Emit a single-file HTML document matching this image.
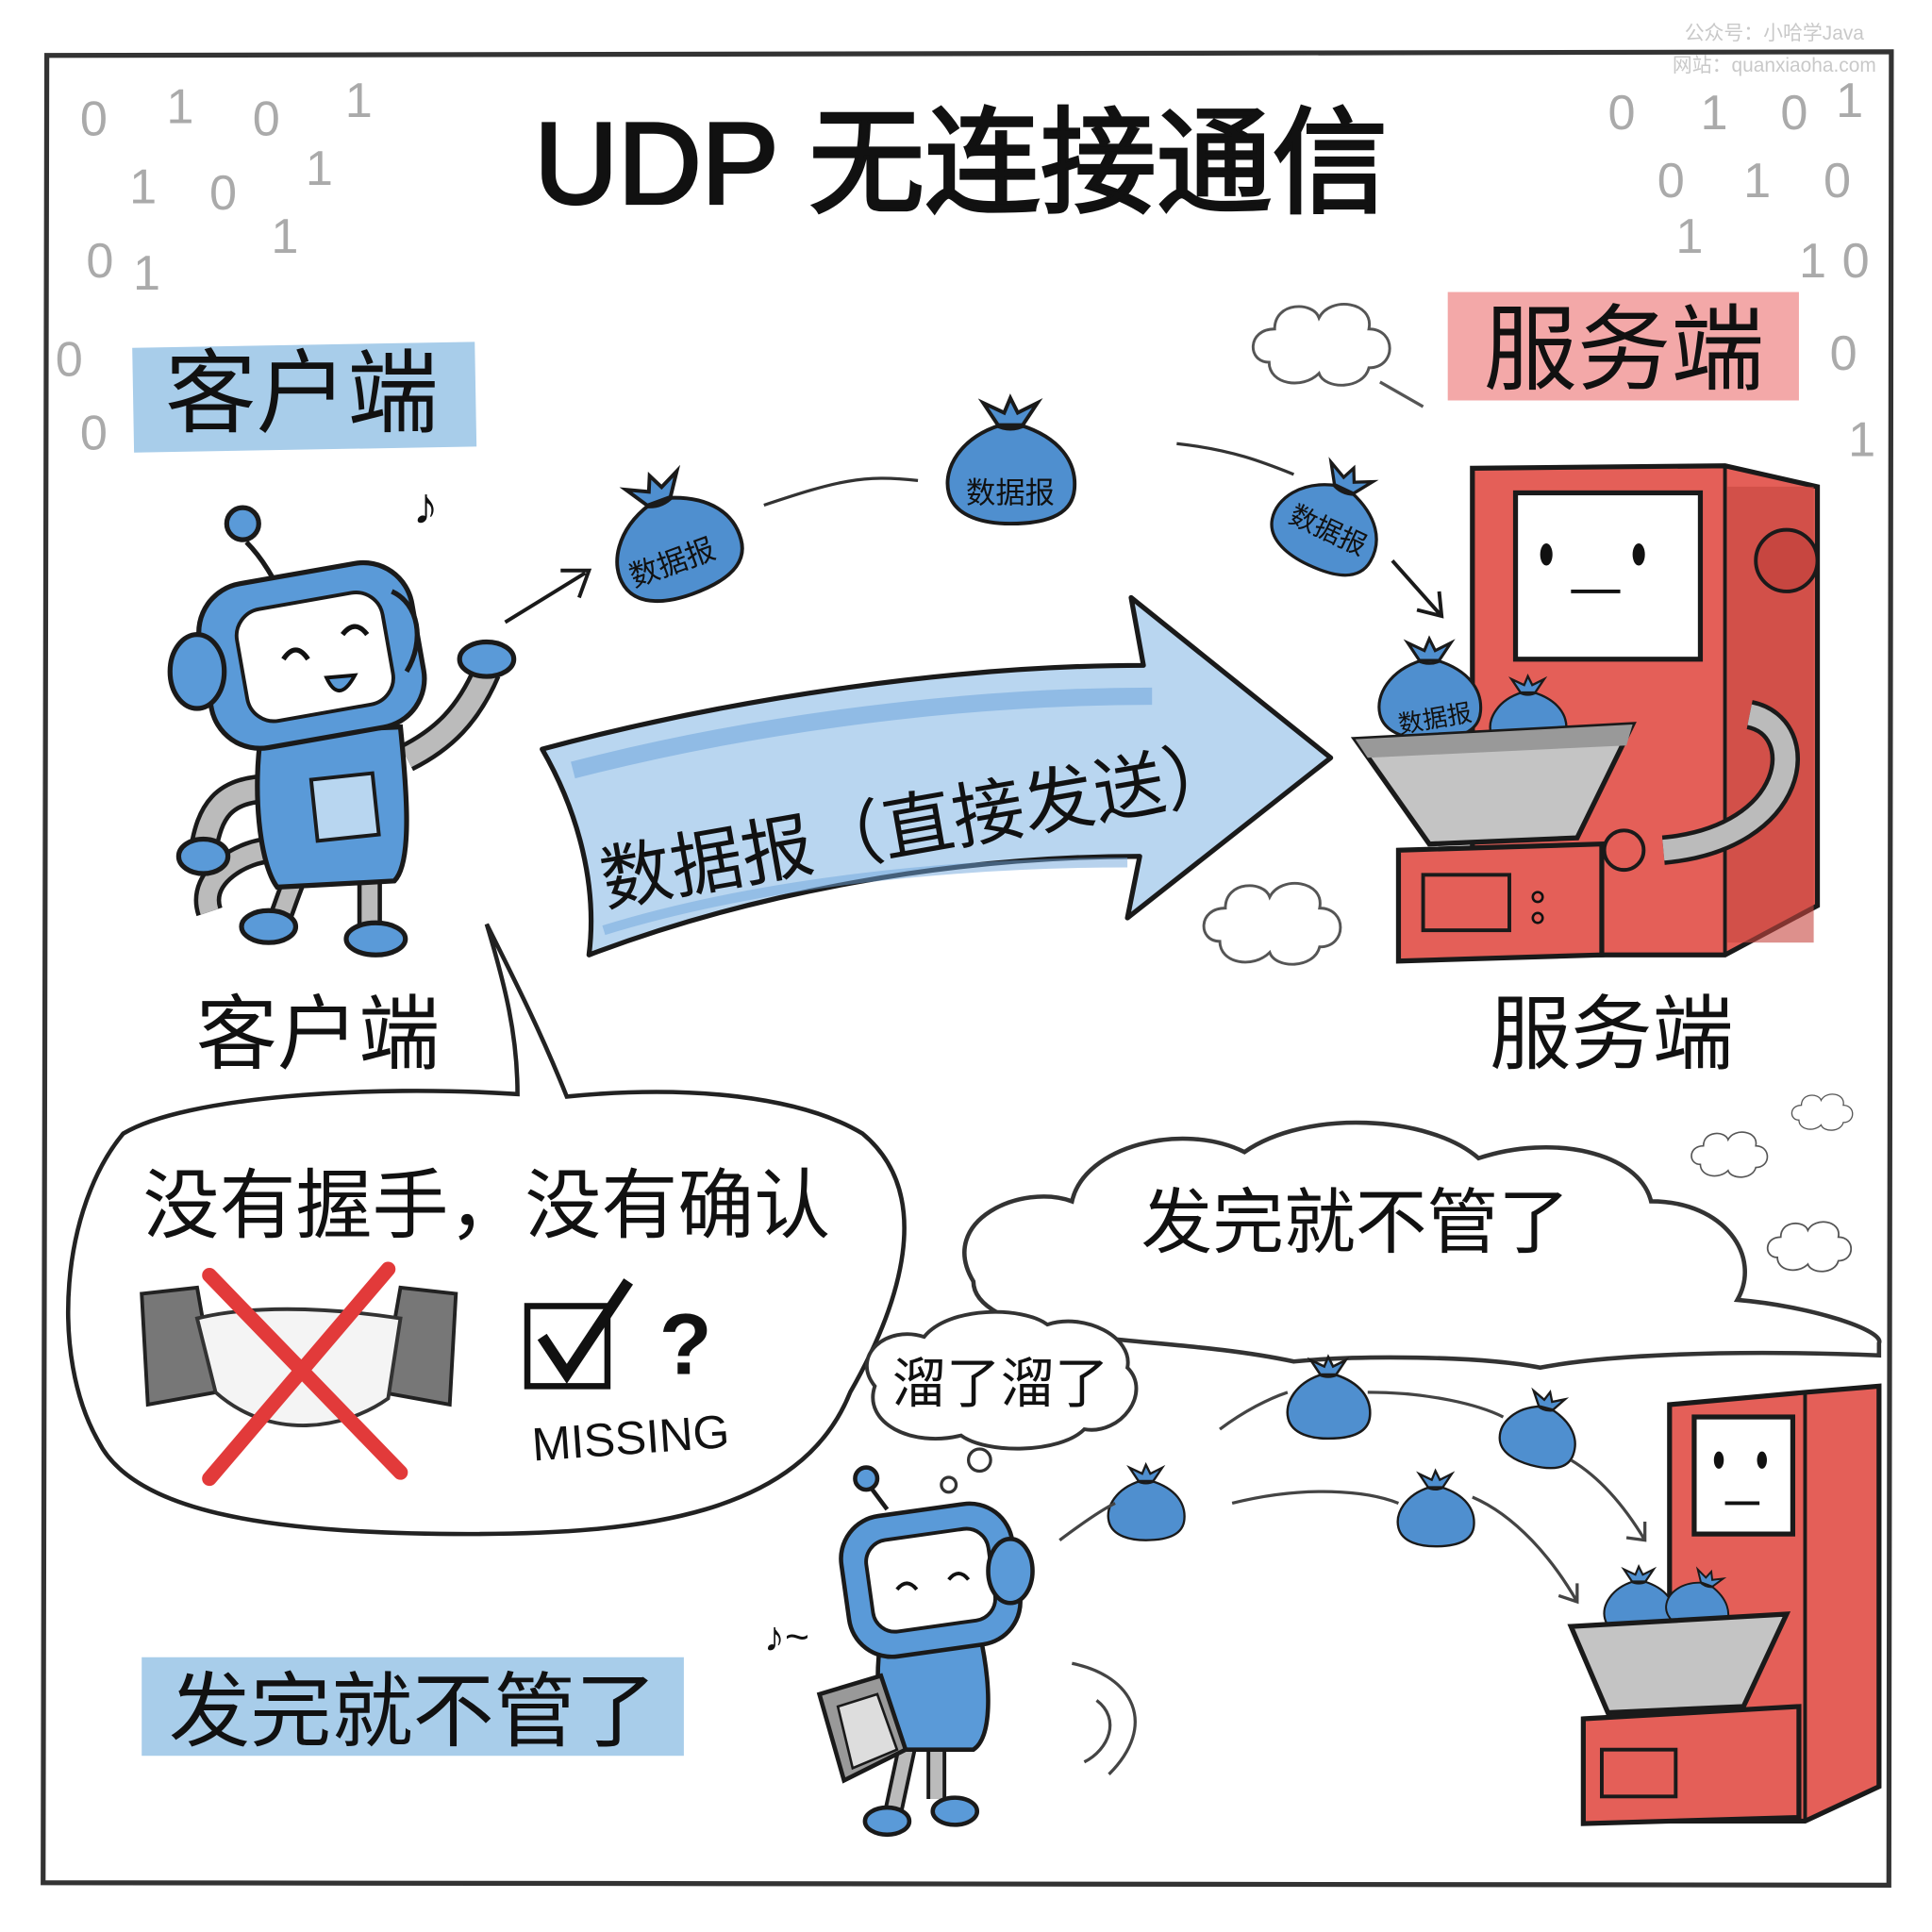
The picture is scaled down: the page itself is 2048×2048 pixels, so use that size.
<!DOCTYPE html>
<html><head><meta charset="utf-8"><style>
html,body{margin:0;padding:0;background:#fff}
svg{display:block}
text{font-family:"Liberation Sans","Noto Sans CJK SC",sans-serif}
</style></head><body>
<svg width="2048" height="2048" viewBox="0 0 1568 1568" xmlns="http://www.w3.org/2000/svg">
<defs>
<g id="bag">
<path d="M-8,-30 C-40,-20 -55,5 -50,25 C-45,45 -20,50 0,50 C25,50 50,45 52,22 C54,0 40,-20 8,-30 Z" fill="#4f8fcf" stroke="#1a1a1a" stroke-width="3"/>
<path d="M-10,-30 L-22,-48 L-5,-40 L0,-52 L6,-40 L22,-48 L10,-30 Z" fill="#4f8fcf" stroke="#1a1a1a" stroke-width="3"/>
<path d="M-12,-30 Q0,-24 12,-30" fill="none" stroke="#1a1a1a" stroke-width="3"/>
</g>
<g id="cloud">
<path d="M-50,10 C-70,10 -70,-20 -45,-20 C-45,-45 -10,-45 -5,-30 C5,-50 45,-45 40,-20 C65,-20 65,15 40,15 C35,35 0,35 -5,20 C-20,35 -50,30 -50,10 Z" fill="#fff" stroke="#555" stroke-width="2.5"/>
</g>
</defs>
<rect width="1568" height="1568" fill="#fff"/>
<path d="M38,45 L1535,42 L1533,1530 L35,1528 Z" fill="none" stroke="#333" stroke-width="4"/>
<text x="1440" y="32" font-size="16" fill="#c9c9c9" text-anchor="middle">公众号：小哈学Java</text>
<text x="1440" y="58" font-size="16" fill="#c9c9c9" text-anchor="middle">网站：quanxiaoha.com</text>
<g font-family="Liberation Mono,monospace" fill="#aaa" font-size="40">
<text x="65" y="110">0</text><text x="135" y="100">1</text><text x="205" y="110">0</text><text x="280" y="95">1</text>
<text x="105" y="165">1</text><text x="170" y="170">0</text><text x="248" y="150">1</text>
<text x="70" y="225">0</text><text x="108" y="235">1</text><text x="220" y="205">1</text>
<text x="45" y="305">0</text><text x="65" y="365">0</text>
<text x="1305" y="105">0</text><text x="1380" y="105">1</text><text x="1445" y="105">0</text><text x="1490" y="95">1</text>
<text x="1345" y="160">0</text><text x="1415" y="160">1</text><text x="1480" y="160">0</text>
<text x="1360" y="205">1</text><text x="1460" y="225">1</text><text x="1495" y="225">0</text>
<text x="1485" y="300">0</text><text x="1500" y="370">1</text>
</g>
<text x="780" y="165" font-size="94" text-anchor="middle" fill="#111" stroke="#111" stroke-width="2.5">UDP 无连接通信</text>
<rect x="108" y="280" width="278" height="85" fill="#a8cdea" transform="rotate(-1 240 320)"/>
<text x="245" y="345" font-size="74" text-anchor="middle" fill="#111">客户端</text>
<rect x="1175" y="237" width="285" height="88" fill="#f3a8a8"/>
<text x="1318" y="310" font-size="76" text-anchor="middle" fill="#111">服务端</text>
<text x="258" y="862" font-size="66" text-anchor="middle" fill="#111">客户端</text>
<text x="1308" y="862" font-size="66" text-anchor="middle" fill="#111">服务端</text>
<g transform="translate(1075,285) scale(0.9)"><use href="#cloud"/></g>
<path d="M1120,310 L1155,330" stroke="#555" stroke-width="2.5"/>
<g transform="translate(1035,755) scale(0.9)"><use href="#cloud"/></g>
<!-- big arrow -->
<path d="M440,608 C600,565 780,540 928,540 L918,485 L1080,615 L915,745 L925,695 C770,695 610,725 478,775 C485,720 470,660 440,608 Z" fill="#b9d6f0" stroke="#1a1a1a" stroke-width="4" stroke-linejoin="round"/>
<path d="M465,625 C620,585 790,565 935,565" stroke="#6fa6dc" stroke-width="14" fill="none" opacity="0.55"/>
<path d="M490,755 C620,715 780,700 915,700" stroke="#6fa6dc" stroke-width="8" fill="none" opacity="0.5"/>
<text x="745" y="690" font-size="58" text-anchor="middle" fill="#111" transform="rotate(-10 745 670)">数据报（直接发送）</text>
<g transform="translate(545,435) rotate(-20)"><use href="#bag"/></g>
<text x="545" y="465" font-size="24" text-anchor="middle" fill="#111" transform="rotate(-20 545 455)">数据报</text>
<g transform="translate(820,375)"><use href="#bag"/></g>
<text x="820" y="408" font-size="24" text-anchor="middle" fill="#111">数据报</text>
<g transform="translate(1080,420) rotate(25) scale(0.85)"><use href="#bag"/></g>
<text x="1078" y="438" font-size="22" text-anchor="middle" fill="#111" transform="rotate(25 1078 430)">数据报</text>
<path d="M410,505 L475,465 M455,463 L478,463 L470,485" stroke="#1a1a1a" stroke-width="3" fill="none"/>
<path d="M620,410 C680,390 700,385 745,390 M955,360 C1000,365 1025,375 1050,385" stroke="#333" stroke-width="2.5" fill="none"/>
<path d="M1130,455 L1170,500 M1150,495 L1170,500 L1168,480" stroke="#1a1a1a" stroke-width="3" fill="none"/>
<!-- server -->
<path d="M1195,380 L1400,378 L1475,395 L1475,735 L1400,775 L1195,775 Z" fill="#e45f58" stroke="#1a1a1a" stroke-width="4"/>
<path d="M1400,378 L1400,775" stroke="#1a1a1a" stroke-width="3"/>
<rect x="1402" y="395" width="70" height="370" fill="#c74640" opacity="0.6"/>
<circle cx="1450" cy="455" r="25" fill="#c74640" stroke="#1a1a1a" stroke-width="3"/>
<rect x="1230" y="400" width="150" height="135" fill="#fff" stroke="#1a1a1a" stroke-width="4"/>
<ellipse cx="1255" cy="450" rx="5" ry="9" fill="#111"/><ellipse cx="1330" cy="450" rx="5" ry="9" fill="#111"/>
<path d="M1275,480 L1315,480" stroke="#111" stroke-width="3"/>
<path d="M1420,580 C1470,590 1460,680 1350,690" stroke="#1a1a1a" stroke-width="24" fill="none"/>
<path d="M1420,580 C1470,590 1460,680 1350,690" stroke="#bbb" stroke-width="17" fill="none"/>
<path d="M1135,690 L1300,685 L1300,775 L1135,780 Z" fill="#e45f58" stroke="#1a1a1a" stroke-width="4"/>
<rect x="1155" y="710" width="70" height="45" fill="none" stroke="#1a1a1a" stroke-width="3"/>
<circle cx="1248" cy="728" r="4" fill="none" stroke="#111" stroke-width="2"/><circle cx="1248" cy="745" r="4" fill="none" stroke="#111" stroke-width="2"/>
<circle cx="1318" cy="690" r="16" fill="#e45f58" stroke="#1a1a1a" stroke-width="3"/>
<g transform="translate(1160,560) scale(0.8)"><use href="#bag"/></g>
<text x="1165" y="590" font-size="20" text-anchor="middle" fill="#111" transform="rotate(-10 1165 585)">数据报</text>
<g transform="translate(1240,580) scale(0.6)"><use href="#bag"/></g>
<path d="M1100,600 L1325,588 L1280,680 L1160,685 Z" fill="#c4c4c4" stroke="#1a1a1a" stroke-width="4"/>
<path d="M1100,600 L1325,588 L1320,605 L1110,615 Z" fill="#999"/>
<!-- client robot -->
<g stroke="#1a1a1a" stroke-width="4">
<path d="M235,500 C225,470 210,450 200,440" fill="none"/>
<circle cx="197" cy="425" r="13" fill="#5a9ad8"/>
<path d="M170,740 C160,710 200,690 220,690" stroke-width="22" fill="none"/>
<path d="M170,740 C160,710 200,690 220,690" stroke="#bbb" stroke-width="15" fill="none"/>
<path d="M300,700 C300,720 300,740 300,755" stroke-width="20" fill="none"/>
<path d="M300,700 C300,720 300,740 300,755" stroke="#bbb" stroke-width="13" fill="none"/>
<path d="M245,700 C235,720 230,740 225,750" stroke-width="20" fill="none"/>
<path d="M245,700 C235,720 230,740 225,750" stroke="#bbb" stroke-width="13" fill="none"/>
<path d="M220,640 C180,640 170,660 165,690" stroke-width="24" fill="none"/>
<path d="M220,640 C180,640 170,660 165,690" stroke="#bbb" stroke-width="17" fill="none"/>
<path d="M330,615 C360,600 380,580 395,545" stroke-width="24" fill="none"/>
<path d="M330,615 C360,600 380,580 395,545" stroke="#bbb" stroke-width="17" fill="none"/>
<path d="M212,595 L325,590 C330,640 335,700 320,715 L225,720 C210,700 205,640 212,595 Z" fill="#5a9ad8"/>
<rect x="255" y="630" width="50" height="50" fill="#b8d6f0" stroke-width="3" transform="rotate(-6 280 655)"/>
<rect x="165" y="465" width="175" height="135" rx="40" fill="#5a9ad8" transform="rotate(-10 250 530)"/>
<rect x="195" y="488" width="120" height="92" rx="22" fill="#fff" stroke-width="3" transform="rotate(-10 250 530)"/>
<ellipse cx="160" cy="545" rx="22" ry="30" fill="#5a9ad8"/>
<path d="M318,480 C340,490 345,520 330,545" fill="#5a9ad8"/>
<ellipse cx="165" cy="695" rx="20" ry="14" fill="#5a9ad8"/>
<ellipse cx="395" cy="535" rx="22" ry="14" fill="#5a9ad8"/>
<ellipse cx="218" cy="752" rx="22" ry="13" fill="#5a9ad8"/>
<ellipse cx="305" cy="762" rx="24" ry="13" fill="#5a9ad8"/>
</g>
<path d="M230,535 Q240,520 250,535 M278,515 Q288,502 298,515" stroke="#111" stroke-width="4" fill="none"/>
<path d="M265,550 Q275,572 288,548 Z" fill="#5a9ad8" stroke="#111" stroke-width="3"/>
<text x="335" y="425" font-size="42" fill="#111">♪</text>
<!-- speech bubble -->
<path d="M395,750 C420,800 440,840 460,890 C560,880 650,890 700,920 C760,970 730,1060 690,1130 C650,1230 520,1245 380,1245 C230,1245 110,1230 80,1170 C40,1100 50,980 100,920 C150,890 300,880 420,888 C420,840 410,800 395,750 Z" fill="#fff" stroke="#222" stroke-width="3.5"/>
<text x="395" y="1000" font-size="62" text-anchor="middle" fill="#111">没有握手，没有确认</text>
<path d="M115,1050 L160,1045 L175,1130 L120,1140 Z" fill="#777" stroke="#222" stroke-width="3"/>
<path d="M370,1050 L325,1045 L310,1130 L365,1140 Z" fill="#777" stroke="#222" stroke-width="3"/>
<path d="M160,1070 C200,1060 260,1060 325,1070 L315,1135 C280,1160 220,1170 175,1130 Z" fill="#f4f4f4" stroke="#333" stroke-width="3"/>
<path d="M170,1035 L325,1195 M315,1030 L170,1200" stroke="#e23a3a" stroke-width="12" stroke-linecap="round"/>
<rect x="428" y="1060" width="65" height="65" fill="#fff" stroke="#111" stroke-width="5"/>
<path d="M440,1085 L460,1115 L510,1040" stroke="#111" stroke-width="9" fill="none"/>
<text x="535" y="1115" font-size="70" font-weight="bold" fill="#111">?</text>
<text x="512" y="1180" font-size="38" text-anchor="middle" fill="#111" transform="rotate(-4 512 1170)">MISSING</text>
<rect x="115" y="1345" width="440" height="80" fill="#a8cdea"/>
<text x="335" y="1412" font-size="66" text-anchor="middle" fill="#111">发完就不管了</text>
<!-- big cloud -->
<path d="M790,1040 C760,990 830,960 870,975 C880,930 960,910 1010,935 C1060,900 1160,905 1200,940 C1260,920 1330,935 1340,975 C1400,975 1430,1020 1410,1055 C1470,1060 1530,1080 1525,1090 L1525,1100 C1400,1095 1300,1100 1250,1110 C1200,1100 1100,1100 1050,1105 C980,1090 900,1090 860,1080 C820,1075 790,1060 790,1040 Z" fill="#fff" stroke="#333" stroke-width="3.5"/>
<text x="1100" y="1012" font-size="58" text-anchor="middle" fill="#111">发完就不管了</text>
<g transform="translate(1480,905) scale(0.4)"><use href="#cloud"/></g>
<g transform="translate(1405,940) scale(0.5)"><use href="#cloud"/></g>
<g transform="translate(1470,1015) scale(0.55)"><use href="#cloud"/></g>
<path d="M710,1125 C690,1100 720,1075 750,1085 C770,1060 830,1060 850,1075 C880,1065 920,1085 915,1110 C935,1130 910,1165 880,1160 C860,1180 800,1180 780,1165 C740,1175 700,1155 710,1125 Z" fill="#fff" stroke="#333" stroke-width="3"/>
<text x="812" y="1138" font-size="44" text-anchor="middle" fill="#111">溜了溜了</text>
<circle cx="795" cy="1185" r="9" fill="#fff" stroke="#333" stroke-width="2.5"/>
<circle cx="770" cy="1205" r="6" fill="#fff" stroke="#333" stroke-width="2.5"/>
<!-- small robot -->
<g stroke="#1a1a1a" stroke-width="3.5">
<path d="M720,1225 L705,1205" fill="none"/><circle cx="703" cy="1200" r="9" fill="#5a9ad8"/>
<path d="M760,1400 L760,1460 M740,1400 L725,1470" stroke-width="16" fill="none"/>
<path d="M760,1400 L760,1460 M740,1400 L725,1470" stroke="#bbb" stroke-width="10" fill="none"/>
<path d="M715,1330 L795,1325 C805,1370 805,1410 790,1420 L725,1420 C712,1400 710,1360 715,1330 Z" fill="#5a9ad8"/>
<rect x="685" y="1225" width="140" height="115" rx="35" fill="#5a9ad8" transform="rotate(-8 755 1280)"/>
<rect x="705" y="1245" width="100" height="75" rx="18" fill="#fff" stroke-width="3" transform="rotate(-8 755 1280)"/>
<ellipse cx="820" cy="1275" rx="18" ry="26" fill="#5a9ad8"/>
<path d="M665,1375 L715,1360 L735,1420 L685,1445 Z" fill="#999"/>
<path d="M680,1385 L712,1375 L728,1420 L692,1435 Z" fill="#ddd" stroke-width="2"/>
<ellipse cx="720" cy="1478" rx="18" ry="11" fill="#5a9ad8"/>
<ellipse cx="775" cy="1470" rx="18" ry="11" fill="#5a9ad8"/>
</g>
<path d="M728,1290 Q736,1280 744,1290 M770,1282 Q778,1272 786,1282" stroke="#111" stroke-width="3" fill="none"/>
<text x="620" y="1340" font-size="34" fill="#111">♪~</text>
<g transform="translate(1078,1135) scale(0.65)"><use href="#bag"/></g>
<g transform="translate(930,1220) scale(0.6)"><use href="#bag"/></g>
<g transform="translate(1165,1225) scale(0.6)"><use href="#bag"/></g>
<g transform="translate(1250,1160) rotate(15) scale(0.6)"><use href="#bag"/></g>
<g fill="none" stroke="#444" stroke-width="2.5">
<path d="M990,1160 C1010,1145 1030,1135 1045,1130"/><path d="M860,1250 C880,1235 895,1225 905,1220"/>
<path d="M1110,1130 C1160,1130 1200,1140 1220,1150"/><path d="M1000,1220 C1060,1205 1110,1210 1135,1220"/>
<path d="M1195,1215 C1230,1230 1260,1265 1280,1300 M1265,1295 L1280,1300 L1280,1285"/>
<path d="M1275,1185 C1300,1200 1320,1225 1335,1250 M1320,1248 L1335,1250 L1335,1235"/>
<path d="M870,1350 C920,1360 940,1400 900,1440 M890,1380 C910,1395 900,1420 880,1430"/>
</g>
<path d="M1355,1140 L1465,1130 L1525,1125 L1525,1450 L1465,1478 L1355,1478 Z" fill="#e45f58" stroke="#1a1a1a" stroke-width="4"/>
<path d="M1465,1130 L1465,1478" stroke="#1a1a1a" stroke-width="3"/>
<rect x="1375" y="1150" width="80" height="95" fill="#fff" stroke="#1a1a1a" stroke-width="4"/>
<ellipse cx="1395" cy="1185" rx="4" ry="7" fill="#111"/><ellipse cx="1430" cy="1185" rx="4" ry="7" fill="#111"/>
<path d="M1400,1220 L1428,1220" stroke="#111" stroke-width="3"/>
<path d="M1285,1395 L1460,1385 L1460,1475 L1285,1480 Z" fill="#e45f58" stroke="#1a1a1a" stroke-width="4"/>
<rect x="1300" y="1420" width="60" height="38" fill="none" stroke="#1a1a1a" stroke-width="3"/>
<g transform="translate(1330,1300) scale(0.55)"><use href="#bag"/></g>
<g transform="translate(1380,1300) rotate(20) scale(0.5)"><use href="#bag"/></g>
<path d="M1275,1320 L1450,1310 L1415,1385 L1305,1390 Z" fill="#c4c4c4" stroke="#1a1a1a" stroke-width="4"/>
</svg>
</body></html>
